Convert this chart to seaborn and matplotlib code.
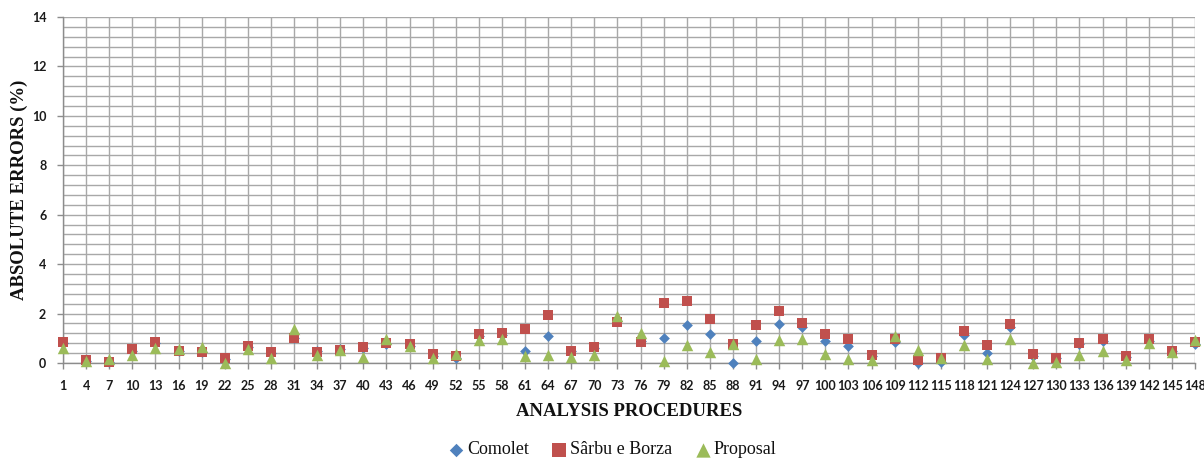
import numpy as np
import pandas as pd
import matplotlib
matplotlib.use("Agg")
import matplotlib.pyplot as plt
import seaborn as sns
from matplotlib.ticker import MultipleLocator

# ---- data ----
procedures = list(range(1, 149, 3))  # 1, 4, ..., 148

comolet = [0.80, 0.10, 0.05, 0.50, 0.80, 0.50, 0.45, 0.15, 0.65, 0.40,
           1.00, 0.50, 0.55, 0.60, 0.75, 0.70, 0.30, 0.20, 1.10, 1.15,
           0.49, 1.08, 0.50, 0.60, 1.70, 0.90, 1.03, 1.55, 1.19, 0.01,
           0.89, 1.59, 1.45, 0.88, 0.69, 0.30, 0.85, 0.00, 0.03, 1.12,
           0.41, 1.45, 0.30, 0.22, 0.75, 0.90, 0.25, 0.90, 0.50, 0.75]

sarbu = [0.85, 0.12, 0.05, 0.55, 0.85, 0.50, 0.43, 0.19, 0.68, 0.43,
         1.01, 0.45, 0.52, 0.63, 0.79, 0.76, 0.35, 0.29, 1.16, 1.21,
         1.36, 1.96, 0.49, 0.63, 1.65, 0.85, 2.43, 2.52, 1.79, 0.75,
         1.52, 2.12, 1.61, 1.16, 0.99, 0.32, 0.99, 0.12, 0.19, 1.28,
         0.72, 1.56, 0.35, 0.21, 0.81, 0.99, 0.29, 0.99, 0.49, 0.83]

proposal = [0.62, 0.08, 0.15, 0.32, 0.60, 0.55, 0.63, 0.00, 0.57, 0.20,
            1.38, 0.32, 0.52, 0.23, 0.99, 0.68, 0.20, 0.36, 0.95, 0.99,
            0.28, 0.32, 0.23, 0.32, 1.89, 1.21, 0.09, 0.72, 0.45, 0.75,
            0.16, 0.92, 0.99, 0.36, 0.16, 0.12, 1.08, 0.52, 0.19, 0.72,
            0.15, 0.99, 0.00, 0.03, 0.32, 0.48, 0.13, 0.79, 0.45, 0.95]

series_names = ["Comolet", "Sârbu e Borza", "Proposal"]
colors = ["#4F81BD", "#C0504D", "#9BBB59"]
markers = ["D", "s", "^"]
sizes = [30, 62, 68]

df = pd.DataFrame({"Procedure": procedures,
                   "Comolet": comolet,
                   "Sârbu e Borza": sarbu,
                   "Proposal": proposal})

sns.set_theme(style="white")

fig = plt.figure(figsize=(12.04, 4.59), dpi=100)
ax = fig.add_axes([63/1204, 1-363/459, (1195-63)/1204, (363-17)/459])

for name, c, m, s in zip(series_names, colors, markers, sizes):
    sns.scatterplot(data=df, x="Procedure", y=name, ax=ax, color=c, marker=m,
                    s=s, linewidth=0, label=name, zorder=3, legend=False,
                    clip_on=False)

ax.set_xlim(1, 148)
ax.set_ylim(0, 14)
ax.set_xticks(procedures)
ax.set_xticklabels([str(p) for p in procedures])
ax.yaxis.set_major_locator(MultipleLocator(2))
ax.yaxis.set_minor_locator(MultipleLocator(0.4))

gc = "#A8A8A8"
ax.grid(True, which="major", axis="both", color=gc, linewidth=1.0, zorder=0)
ax.grid(True, which="minor", axis="y", color=gc, linewidth=1.0, zorder=0)
ax.set_axisbelow(True)

for side in ["top", "right"]:
    ax.spines[side].set_visible(False)
for side in ["left", "bottom"]:
    ax.spines[side].set_color("#8C8C8C")
    ax.spines[side].set_linewidth(1.0)

ax.tick_params(axis="x", which="major", direction="out", length=4, width=1,
               color="#8C8C8C", pad=8, bottom=True)
ax.tick_params(axis="y", which="major", direction="out", length=4, width=1,
               color="#8C8C8C", pad=8, left=True)
ax.tick_params(axis="y", which="minor", length=0)
for lbl in ax.get_xticklabels() + ax.get_yticklabels():
    lbl.set_fontfamily("Lato")
    lbl.set_fontweight("bold")
    lbl.set_fontsize(9)
    lbl.set_color("#1a1a1a")

ax.set_xlabel("")
ax.set_ylabel("")
fig.text(629/1204, 1-411/459, "ANALYSIS PROCEDURES", ha="center", va="center",
         family="Liberation Serif", weight="bold", fontsize=13.5, color="#111111")
fig.text(19/1204, 1-190/459, "ABSOLUTE ERRORS (%)", ha="center", va="center",
         rotation=90, family="Liberation Serif", weight="bold", fontsize=13.5,
         color="#111111")

handles, labels = ax.get_legend_handles_labels()
leg = fig.legend(handles, labels, loc="center", bbox_to_anchor=(610/1204, 1-450/459),
                 ncol=3, frameon=False, handletextpad=-0.1, columnspacing=1.0,
                 prop=dict(family="Liberation Serif", size=13), markerscale=1.25,
                 handlelength=1.4, borderpad=0.2)
for t in leg.get_texts():
    t.set_color("#111111")

fig.savefig("out.png", dpi=100)
